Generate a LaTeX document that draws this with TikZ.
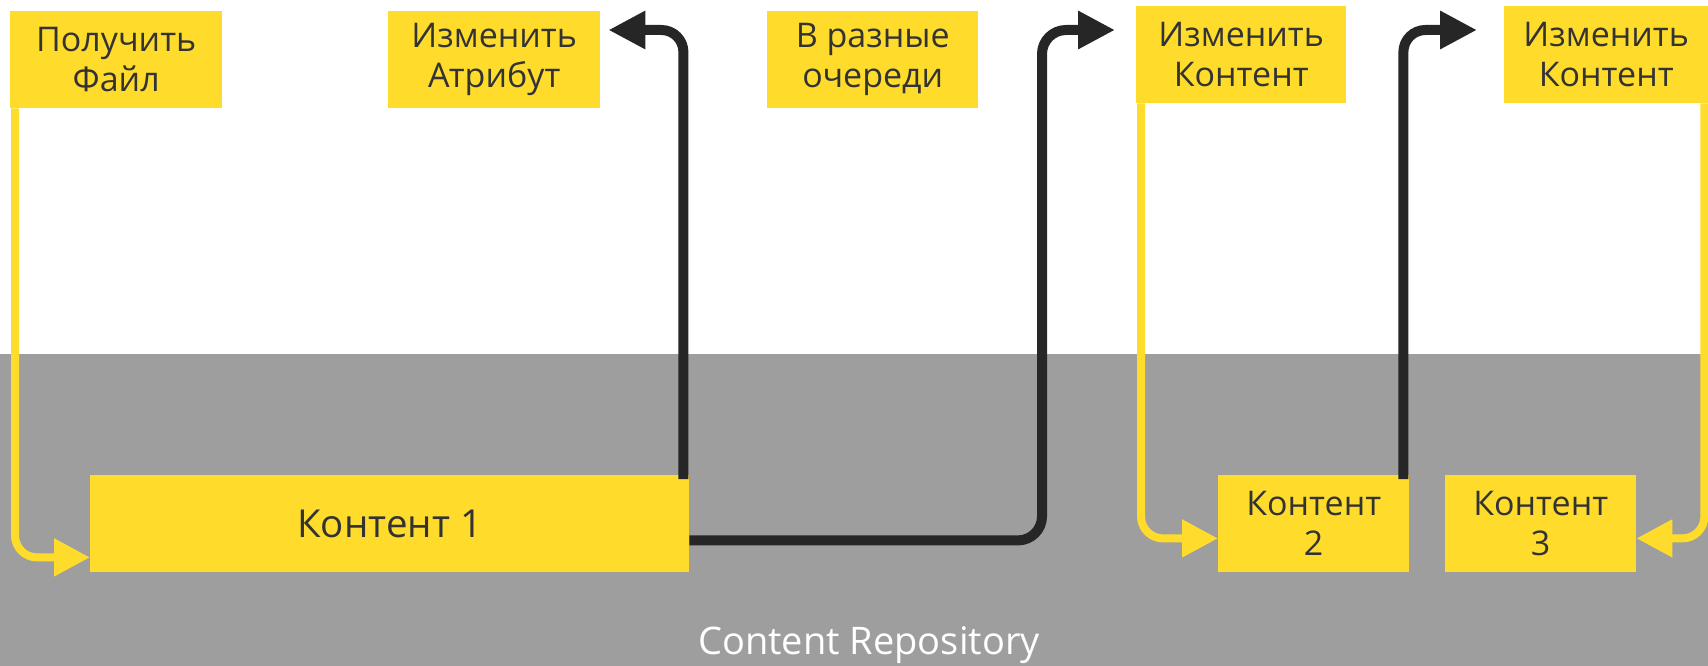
\documentclass[tikz,border=0pt]{standalone}
\usepackage{fontspec}
\setmainfont{Open Sans}
\usetikzlibrary{arrows.meta}

\definecolor{boxyellow}{HTML}{FFDC2B}
\definecolor{repogray}{HTML}{9E9E9E}
\definecolor{linedark}{HTML}{262626}
\definecolor{textdark}{HTML}{333333}

\tikzset{
  labelbox/.style={fill=boxyellow, anchor=north west, inner sep=0pt, align=center,
    text=textdark, font=\fontsize{34}{40}\selectfont, minimum height=97pt},
  darkarrow/.style={draw=linedark, line width=10pt, rounded corners=22pt,
    -{Triangle[length=37pt,width=36pt]}},
  yellowarrow/.style={draw=boxyellow, line width=8pt, rounded corners=22pt,
    -{Triangle[length=36pt,width=36pt]}}
}

\begin{document}
\begin{tikzpicture}[x=1pt,y=-1pt]

\useasboundingbox (0,0) rectangle (1708,666);

%draw the repository area
\fill[repogray] (0,354) rectangle (1708,666);
\node[text=white, font=\fontsize{38}{40}\selectfont] (repo) at (869,645) {Content Repository};


%draw the boxes on top
\node[labelbox, minimum width=212pt] (getfile) at (10,11) {Получить\\Файл};
\node[labelbox, minimum width=212pt] (attr) at (388,11) {Изменить\\Атрибут};
\node[labelbox, minimum width=211pt] (queues) at (767,11) {В разные\\очереди};
\node[labelbox, minimum width=210pt] (chg2) at (1136,6) {Изменить\\Контент};
\node[labelbox, minimum width=204pt] (chg3) at (1504,6) {Изменить\\Контент};

%draw the content boxes
\node[labelbox, minimum width=599pt, font=\fontsize{38.5}{40}\selectfont] (c1) at (90,475) {Контент 1};
\node[labelbox, minimum width=191pt] (c2) at (1218,475) {Контент\\2};
\node[labelbox, minimum width=191pt] (c3) at (1445,475) {Контент\\3};


%yellow arrows down into the content
\draw[yellowarrow] ([xshift=5pt]getfile.south west) |- ([yshift=15pt]c1.south west);
\draw[yellowarrow] ([xshift=5pt]chg2.south west) |- ([yshift=34pt]c2.south west);
\draw[yellowarrow] ([xshift=-4pt]chg3.south east) |- ([yshift=34pt]c3.south east);

%dark arrows up out of the content
\draw[darkarrow] ([xshift=-6pt,yshift=-4pt]c1.north east) |- ([xshift=8pt,yshift=-19pt]attr.north east);
\coordinate (turn2) at (1042,30);
\draw[darkarrow, rounded corners=24pt] ([yshift=32pt]c1.south east) -| (turn2) -- ([xshift=-21pt,yshift=-24pt]chg2.north west);
\draw[darkarrow] ([xshift=-6pt,yshift=-4pt]c2.north east) |- ([xshift=-27pt,yshift=-24pt]chg3.north west);

\end{tikzpicture}
\end{document}
